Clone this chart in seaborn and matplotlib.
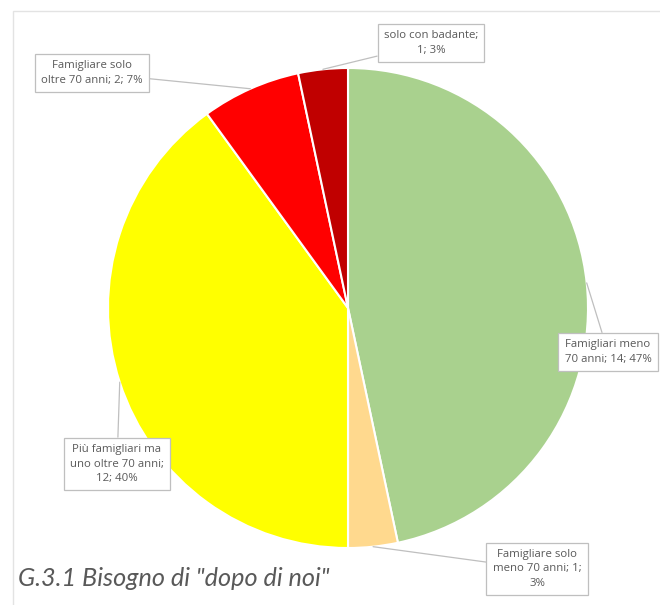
import matplotlib
matplotlib.use("Agg")
import matplotlib.pyplot as plt
import seaborn as sns
import numpy as np
from matplotlib.patches import Rectangle

categories = [
    "Famigliari meno\n70 anni",
    "Famigliare solo\nmeno 70 anni",
    "Più famigliari ma\nuno oltre 70 anni",
    "Famigliare solo\noltre 70 anni",
    "solo con badante",
]
values = [14, 1, 12, 2, 1]
label_texts = [
    "Famigliari meno\n70 anni; 14; 47%",
    "Famigliare solo\nmeno 70 anni; 1;\n3%",
    "Più famigliari ma\nuno oltre 70 anni;\n12; 40%",
    "Famigliare solo\noltre 70 anni; 2; 7%",
    "solo con badante;\n1; 3%",
]
colors = ["#A9D18E", "#FFD98E", "#FFFF00", "#FF0000", "#C00000"]
title = 'G.3.1 Bisogno di "dopo di noi"'

sns.set_theme(style="white")
plt.rcParams["font.family"] = ["Open Sans", "DejaVu Sans"]

W, H = 660, 605
fig = plt.figure(figsize=(W / 100, H / 100), dpi=100)

# light frame
fig.patches.append(Rectangle((13 / W, -0.1), 1.2, (H - 11) / H + 0.1,
                             transform=fig.transFigure, fill=False,
                             edgecolor="#E3E3E3", lw=1.0))

cx, cy, r = 348, 308, 240
ax = fig.add_axes([(cx - r) / W, (H - cy - r) / H, 2 * r / W, 2 * r / H])
palette = sns.color_palette(colors)
wedges, _ = ax.pie(values, colors=palette, startangle=90, counterclock=False,
                   radius=1.0, wedgeprops=dict(edgecolor="white", linewidth=1.5))
ax.set_xlim(-1, 1)
ax.set_ylim(-1, 1)
ax.set_aspect("equal")
ax.axis("off")

# label box centres in pixels (layout only)
label_pos_px = [(608, 352), (537, 569), (117, 464), (92, 73), (431, 43)]

for w, txt, (px, py) in zip(wedges, label_texts, label_pos_px):
    ang = np.deg2rad((w.theta1 + w.theta2) / 2)
    xy = (np.cos(ang), np.sin(ang))
    xt = ((px - cx) / r, (cy - py) / r)
    ax.annotate(txt, xy=xy, xytext=xt, ha="center", va="center",
                fontsize=8.2, color="#595959", linespacing=1.45,
                annotation_clip=False,
                bbox=dict(boxstyle="square,pad=0.55", fc="white",
                          ec="#BFBFBF", lw=0.9),
                arrowprops=dict(arrowstyle="-", color="#BFBFBF", lw=0.9,
                                shrinkA=0, shrinkB=0))

fig.text(18 / W, (H - 586) / H, title, fontsize=18.2, style="italic",
         color="#595959", ha="left", va="baseline", family=["Lato", "DejaVu Sans"])

fig.savefig("out.png", dpi=100)
